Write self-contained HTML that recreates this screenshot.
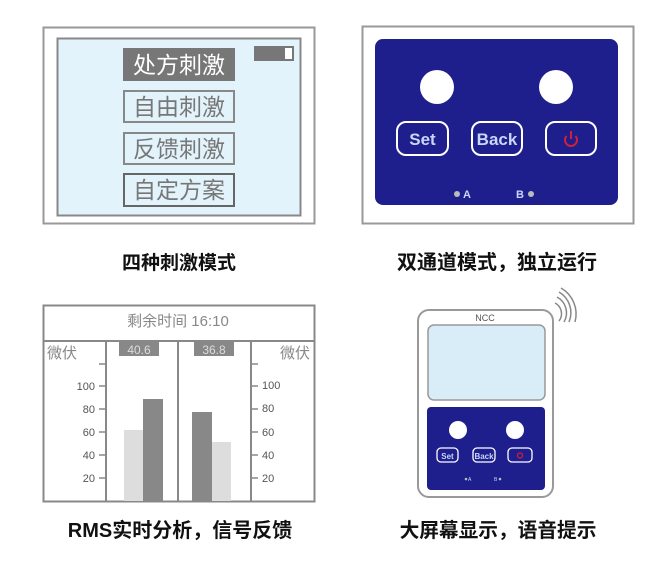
<!DOCTYPE html>
<html><head><meta charset="utf-8"><style>
body{margin:0;background:#fff}
svg{display:block}
text{font-family:"Liberation Sans","Noto Sans CJK SC",sans-serif}
</style></head><body>
<svg width="657" height="580" viewBox="0 0 657 580" xmlns="http://www.w3.org/2000/svg">
<!-- Panel 1 -->
<rect x="43.5" y="27.5" width="271" height="196" fill="#fff" stroke="#999" stroke-width="2"/>
<rect x="57.5" y="38.5" width="243" height="177" fill="#e3f3fb" stroke="#888" stroke-width="2"/>
<rect x="123" y="48" width="112" height="33" fill="#777"/>
<text x="179" y="73" font-size="23" fill="#fff" text-anchor="middle">处方刺激</text>
<rect x="254" y="46" width="40" height="15" fill="#777"/>
<rect x="285" y="48" width="7" height="11" fill="#fff"/>
<g fill="none" stroke="#888" stroke-width="2">
<rect x="124" y="91" width="110" height="31"/>
<rect x="124" y="133" width="110" height="31"/>
<rect x="124" y="174" width="110" height="32" stroke="#666"/>
</g>
<g font-size="23" fill="#777" text-anchor="middle">
<text x="179" y="115">自由刺激</text>
<text x="179" y="157">反馈刺激</text>
<text x="179" y="198">自定方案</text>
</g>
<!-- Panel 2 -->
<rect x="362.5" y="26.5" width="271" height="197" fill="#fff" stroke="#999" stroke-width="2"/>
<rect x="375" y="39" width="243" height="166" rx="8" fill="#1e1f8c"/>
<circle cx="437" cy="87" r="17" fill="#fff"/>
<circle cx="556" cy="87" r="17" fill="#fff"/>
<g fill="none" stroke="#fff" stroke-width="2">
<rect x="397" y="122" width="51" height="33" rx="9"/>
<rect x="472" y="122" width="50" height="33" rx="9"/>
<rect x="546" y="122" width="50" height="33" rx="9"/>
</g>
<text x="422.5" y="145" font-size="17" fill="#c8d6f8" text-anchor="middle" font-weight="bold">Set</text>
<text x="497" y="145" font-size="17" fill="#c8d6f8" text-anchor="middle" font-weight="bold">Back</text>
<g fill="none" stroke="#d0203a" stroke-width="2"><path d="M566.5 136 A6 6 0 1 0 575.5 136"/><line x1="571" y1="131" x2="571" y2="139"/></g>
<circle cx="457" cy="194" r="3" fill="#bbb"/>
<text x="463" y="198" font-size="11" fill="#c8d6f8" font-weight="bold">A</text>
<text x="516" y="198" font-size="11" fill="#c8d6f8" font-weight="bold">B</text>
<circle cx="531" cy="194" r="3" fill="#bbb"/>
<!-- captions -->
<g font-weight="bold" fill="#111" text-anchor="middle">
<text x="179" y="269" font-size="19">四种刺激模式</text>
<text x="497" y="269" font-size="20">双通道模式，独立运行</text>
<text x="180" y="537" font-size="20">RMS实时分析，信号反馈</text>
<text x="498" y="537" font-size="19.7">大屏幕显示，语音提示</text>
</g>
<!-- Panel 3 -->
<rect x="43.5" y="305.5" width="271" height="196" fill="#fff" stroke="#888" stroke-width="2"/>
<line x1="43" y1="341" x2="314" y2="341" stroke="#888" stroke-width="2"/>
<text x="178" y="326" font-size="15" fill="#888" text-anchor="middle">剩余时间  16:10</text>
<g stroke="#888" stroke-width="2">
<line x1="106" y1="341" x2="106" y2="501"/>
<line x1="178" y1="341" x2="178" y2="501"/>
<line x1="251" y1="341" x2="251" y2="501"/>
</g>
<text x="47" y="358" font-size="15" fill="#888">微伏</text>
<text x="280" y="358" font-size="15" fill="#888">微伏</text>
<rect x="119" y="342" width="40" height="14" fill="#888"/>
<rect x="194" y="342" width="40" height="14" fill="#888"/>
<text x="139" y="354" font-size="12" fill="#ddd" text-anchor="middle">40.6</text>
<text x="214" y="354" font-size="12" fill="#ddd" text-anchor="middle">36.8</text>
<g stroke="#888" stroke-width="1.5">
<line x1="99" y1="364" x2="106" y2="364"/><line x1="99" y1="386" x2="106" y2="386"/><line x1="99" y1="409" x2="106" y2="409"/><line x1="99" y1="432" x2="106" y2="432"/><line x1="99" y1="455" x2="106" y2="455"/><line x1="99" y1="478" x2="106" y2="478"/>
<line x1="251" y1="364" x2="258" y2="364"/><line x1="251" y1="386" x2="258" y2="386"/><line x1="251" y1="409" x2="258" y2="409"/><line x1="251" y1="432" x2="258" y2="432"/><line x1="251" y1="455" x2="258" y2="455"/><line x1="251" y1="478" x2="258" y2="478"/>
</g>
<g font-size="11" fill="#555" text-anchor="end">
<text x="95" y="390">100</text><text x="95" y="413">80</text><text x="95" y="436">60</text><text x="95" y="459">40</text><text x="95" y="482">20</text>
</g>
<g font-size="11" fill="#555">
<text x="262" y="389">100</text><text x="262" y="412">80</text><text x="262" y="436">60</text><text x="262" y="459">40</text><text x="262" y="482">20</text>
</g>
<rect x="124" y="430" width="19" height="71" fill="#ddd"/>
<rect x="143" y="399" width="20" height="102" fill="#888"/>
<rect x="192" y="412" width="20" height="89" fill="#888"/>
<rect x="212" y="442" width="19" height="59" fill="#ddd"/>
<!-- Panel 4 -->
<rect x="418" y="310" width="135" height="187" rx="11" fill="#fff" stroke="#999" stroke-width="2"/>
<text x="485" y="321" font-size="9" fill="#555" text-anchor="middle">NCC</text>
<rect x="428" y="325" width="117" height="75" rx="6" fill="#d8edf8" stroke="#999" stroke-width="1.5"/>
<rect x="427" y="407" width="118" height="83" rx="4" fill="#1e1f8c"/>
<circle cx="458" cy="430" r="9" fill="#fff"/>
<circle cx="515" cy="430" r="9" fill="#fff"/>
<g fill="none" stroke="#fff" stroke-width="1.3">
<rect x="437" y="448" width="21" height="14" rx="4"/>
<rect x="473" y="448" width="22" height="14" rx="4"/>
<rect x="508" y="448" width="24" height="14" rx="4"/>
</g>
<text x="447.5" y="459" font-size="8" fill="#c8d6f8" text-anchor="middle" font-weight="bold">Set</text>
<text x="484" y="459" font-size="8" fill="#c8d6f8" text-anchor="middle" font-weight="bold">Back</text>
<circle cx="520" cy="455.5" r="2.5" fill="none" stroke="#d0203a" stroke-width="1.3"/>
<circle cx="466" cy="479" r="1.3" fill="#bbb"/><text x="468" y="481" font-size="5" fill="#c8d6f8">A</text>
<text x="494" y="481" font-size="5" fill="#c8d6f8">B</text><circle cx="500" cy="479" r="1.3" fill="#bbb"/>
<g fill="none" stroke="#888" stroke-width="1.5">
<path d="M555 303 A12 12 0 0 1 559 321"/>
<path d="M557 297 A18 18 0 0 1 564 322"/>
<path d="M559 292 A24 24 0 0 1 569 322"/>
<path d="M561 288 A30 30 0 0 1 575 322"/>
</g>
</svg>
</body></html>
